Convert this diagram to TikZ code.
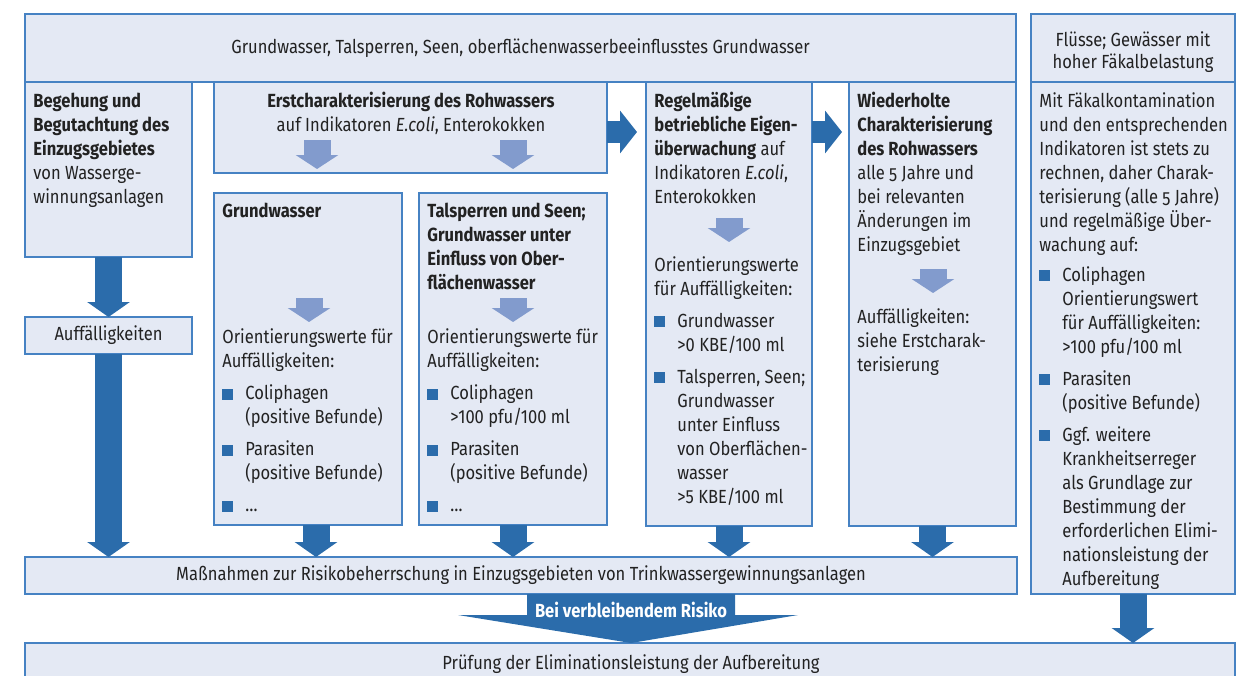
\documentclass[tikz,border=0pt]{standalone}
\usepackage{fontspec}
\setmainfont{Fira Sans}[FakeStretch=0.87]
\usetikzlibrary{arrows.meta,fit}
\definecolor{boxfill}{RGB}{228,233,244}
\definecolor{boxline}{RGB}{70,130,195}
\definecolor{darkarr}{RGB}{43,108,171}
\definecolor{lightarr}{RGB}{130,155,205}
\definecolor{txtgray}{RGB}{34,34,34}
\newcommand{\body}{\fontsize{9.5}{12}\selectfont}
\newcommand{\bitem}{\makebox[11.5pt][l]{\textcolor{darkarr}{\rule{5.5pt}{5.5pt}}}}
\newcommand{\bind}{\hspace*{11.5pt}}
\newcommand{\ofig}[1]{{\addfontfeatures{Numbers=OldStyle}#1}}

\begin{document}
\begin{tikzpicture}[x=0.5pt,y=-0.5pt,
    box/.style={draw=boxline,fill=boxfill,line width=0.6pt,inner sep=0pt,outer sep=0pt},
    lbl/.style={inner sep=0pt,font=\body,text=txtgray,align=center},
    txt/.style={anchor=north west,inner sep=0pt,font=\body,text=txtgray,align=left},
    darr/.style={draw=darkarr,line width=13.5pt,-{Triangle[width=21pt,length=7.5pt]}},
    rarr/.style={draw=darkarr,line width=11pt,-{Triangle[width=21pt,length=8.5pt]}},
    larr/.style={draw=lightarr,line width=13.5pt,-{Triangle[width=21pt,length=7pt]}}]
    \useasboundingbox (0,0) rectangle (1240,675);

    \node[box,fit={(25,14)(1016,82)}] (top) {};
    \node[box,fit={(1031,14)(1235,82)}] (flhead) {};
    \node[box,fit={(1031,82)(1235,594)}] (flbody) {};
    \node[box,fit={(25,82)(192,257)}] (beg) {};
    \node[box,fit={(25,317)(192,354)}] (auff) {};
    \node[box,fit={(214,82)(607,173)}] (erst) {};
    \node[box,fit={(214,193)(402,525)}] (gw) {};
    \node[box,fit={(419,193)(607,525)}] (tal) {};
    \node[box,fit={(646,82)(812,526)}] (regel) {};
    \node[box,fit={(849,82)(1016,526)}] (wied) {};
    \node[box,fit={(25,557)(1017,594)}] (mass) {};
    \node[box,fit={(25,643)(1235,684)}] (pruef) {};

    \node[lbl] (toptxt) at (top.center) {Grundwasser, Talsperren, Seen, oberflächenwasserbeeinflusstes Grundwasser};
    \node[lbl,font=\fontsize{9.5}{11}\selectfont] (flheadtxt) at (1133,52) {Flüsse; Gewässer mit\\hoher Fäkalbelastung};
    \node[lbl] (aufftxt) at (auff.center) {Auffälligkeiten};
    \node[lbl] (masstxt) at (mass.center) {Maßnahmen zur Risikobeherrschung in Einzugsgebieten von Trinkwassergewinnungsanlagen};
    \node[lbl] (prueftxt) at (631,664) {Prüfung der Eliminationsleistung der Aufbereitung};

    \node[txt] (begtxt) at (33,90) {\strut\textbf{Begehung und}\\\textbf{Begutachtung des}\\\textbf{Einzugsgebietes}\\von Wasserge-\\winnungsanlagen};
    \node[txt,anchor=north,align=center] (ersttxt) at (411,90) {\strut\textbf{Erstcharakterisierung des Rohwassers}\\auf Indikatoren \textit{E.coli}, Enterokokken};
    \node[txt] (gwhead) at (222,200) {\strut\textbf{Grundwasser}};
    \node[txt] (gwlist) at (222,326.5) {\strut Orientierungswerte für\\Auffälligkeiten:\\[4pt]\bitem Coliphagen\\\bind(positive Befunde)\\[4pt]\bitem Parasiten\\\bind(positive Befunde)\\[4pt]\bitem …};
    \node[txt] (talhead) at (427,200) {\strut\textbf{Talsperren und Seen;}\\\textbf{Grundwasser unter}\\\textbf{Einfluss von Ober-}\\\textbf{flächenwasser}};
    \node[txt] (tallist) at (427,326.5) {\strut Orientierungswerte für\\Auffälligkeiten:\\[4pt]\bitem Coliphagen\\\bind >100 pfu/100 ml\\[4pt]\bitem Parasiten\\\bind(positive Befunde)\\[4pt]\bitem …};
    \node[txt] (regeltxt) at (654,90) {\strut\textbf{Regelmäßige}\\\textbf{betriebliche Eigen-}\\\textbf{überwachung} auf\\Indikatoren \textit{E.coli},\\Enterokokken};
    \node[txt] (regellist) at (654,254) {\strut Orientierungswerte\\für Auffälligkeiten:\\[4pt]\bitem Grundwasser\\\bind >0 KBE/100 ml\\[4pt]\bitem Talsperren, Seen;\\\bind Grundwasser\\\bind unter Einfluss\\\bind von Oberflächen-\\\bind wasser\\\bind >5 KBE/100 ml};
    \node[txt] (wiedtxt) at (857,90) {\strut\textbf{Wiederholte}\\\textbf{Charakterisierung}\\\textbf{des Rohwassers}\\alle \ofig{5} Jahre und\\bei relevanten\\Änderungen im\\Einzugsgebiet};
    \node[txt] (wiedlist) at (857,306) {\strut Auffälligkeiten:\\siehe Erstcharak-\\terisierung};
    \node[txt] (fltxt) at (1039,90) {\strut Mit Fäkalkontamination\\und den entsprechenden\\Indikatoren ist stets zu\\rechnen, daher Charak-\\terisierung (alle \ofig{5} Jahre)\\und regelmäßige Über-\\wachung auf:\\[3pt]\bitem Coliphagen\\\bind Orientierungswert\\\bind für Auffälligkeiten:\\\bind >100 pfu/100 ml\\[4pt]\bitem Parasiten\\\bind(positive Befunde)\\[4pt]\bitem Ggf. weitere\\\bind Krankheitserreger\\\bind als Grundlage zur\\\bind Bestimmung der\\\bind erforderlichen Elimi-\\\bind nationsleistung der\\\bind Aufbereitung};

    \draw[larr] (317,140) -- (317,169);
    \draw[larr] (513,140) -- (513,169);
    \draw[larr] (309,298) -- (309,322);
    \draw[larr] (513,298) -- (513,322);
    \draw[larr] (729,218) -- (729,242);
    \draw[larr] (933,269) -- (933,293);

    \draw[darr] (beg.south) -- (auff.north);
    \draw[darr] (auff.south) -- (auff.south |- mass.north);
    \draw[darr] ([xshift=4pt]gw.south) -- ([xshift=4pt]gw.south |- mass.north);
    \draw[darr] (tal.south) -- (tal.south |- mass.north);
    \draw[darr] (regel.south) -- (regel.south |- mass.north);
    \draw[darr] (wied.south) -- (wied.south |- mass.north);
    \draw[darr] (flbody.south) -- (flbody.south |- pruef.north);
    \draw[rarr,shorten >=4.5pt] (erst.east |- 0,132) -- (regel.west |- 0,132);
    \draw[rarr,shorten >=3.5pt] (regel.east |- 0,132) -- (wied.west |- 0,132);

    \fill[darkarr] (527,594) -- (735,594) -- (735,615) -- (798,615) -- (631,643) -- (458,615) -- (527,615) -- cycle;
    \node[font=\body\bfseries,text=white,inner sep=0pt] (risk) at (631,610) {Bei verbleibendem Risiko};
\end{tikzpicture}
\end{document}
